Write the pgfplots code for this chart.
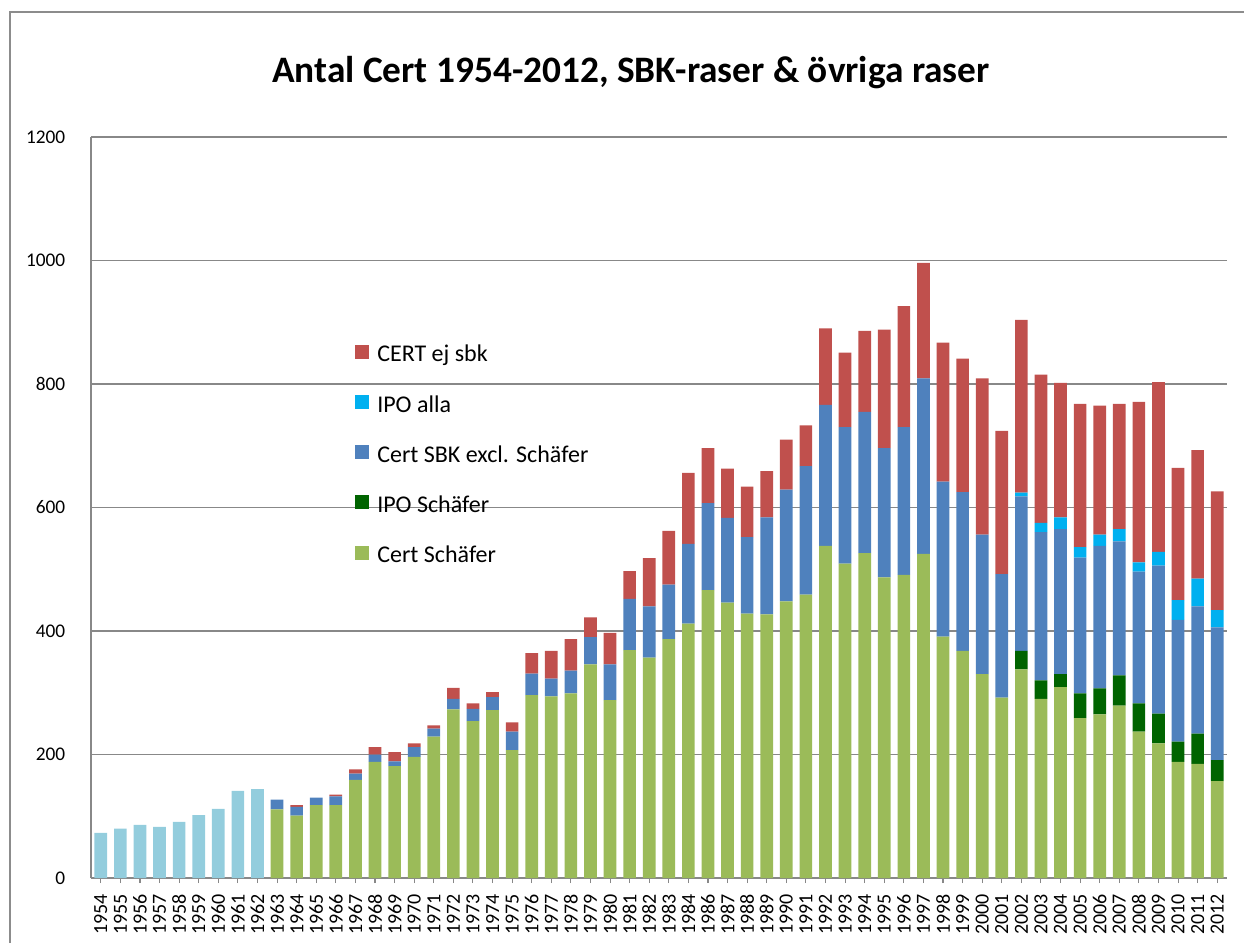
\documentclass[border=0pt]{standalone}
\usepackage{pgfplots}
\usepackage{pgfplotstable}
\usepackage{fontspec}
\setmainfont{Carlito}
\pgfplotsset{compat=1.18}

\definecolor{preblue}{HTML}{93CDDD}
\definecolor{certsch}{HTML}{9BBB59}
\definecolor{iposch}{HTML}{006400}
\definecolor{sbkblue}{HTML}{4F81BD}
\definecolor{ipoalla}{HTML}{00B0F0}
\definecolor{ejsbk}{HTML}{C0504D}
\definecolor{gridgray}{HTML}{888888}
\definecolor{framegray}{HTML}{8C8C8C}

% pre = 1954-1962 (single colour), cs = Cert Schäfer, ips = IPO Schäfer,
% sbk = Cert SBK excl. Schäfer, ipa = IPO alla, ej = CERT ej sbk
\pgfplotstableread{
x  year pre cs  ips sbk ipa ej
0  1954 73  0   0   0   0   0
1  1955 80  0   0   0   0   0
2  1956 86  0   0   0   0   0
3  1957 83  0   0   0   0   0
4  1958 91  0   0   0   0   0
5  1959 102 0   0   0   0   0
6  1960 112 0   0   0   0   0
7  1961 141 0   0   0   0   0
8  1962 144 0   0   0   0   0
9  1963 0   111 0   16  0   0
10 1964 0   101 0   14  0   3
11 1965 0   118 0   12  0   0
12 1966 0   118 0   14  0   3
13 1967 0   159 0   10  0   7
14 1968 0   188 0   12  0   12
15 1969 0   181 0   8   0   15
16 1970 0   196 0   16  0   6
17 1971 0   229 0   13  0   5
18 1972 0   273 0   17  0   18
19 1973 0   254 0   20  0   9
20 1974 0   272 0   21  0   8
21 1975 0   207 0   30  0   15
22 1976 0   296 0   35  0   33
23 1977 0   294 0   29  0   45
24 1978 0   299 0   37  0   51
25 1979 0   346 0   44  0   32
26 1980 0   288 0   58  0   51
27 1981 0   369 0   83  0   45
28 1982 0   357 0   83  0   78
29 1983 0   387 0   88  0   87
30 1984 0   412 0   129 0   115
31 1986 0   466 0   141 0   89
32 1987 0   446 0   137 0   80
33 1988 0   428 0   124 0   82
34 1989 0   427 0   157 0   75
35 1990 0   448 0   181 0   81
36 1991 0   459 0   208 0   66
37 1992 0   538 0   228 0   124
38 1993 0   509 0   221 0   121
39 1994 0   526 0   229 0   131
40 1995 0   487 0   209 0   192
41 1996 0   491 0   239 0   196
42 1997 0   525 0   284 0   187
43 1998 0   391 0   251 0   225
44 1999 0   368 0   257 0   216
45 2000 0   330 0   226 0   253
46 2001 0   292 0   200 0   232
47 2002 0   338 30  250 6   280
48 2003 0   290 30  240 15  240
49 2004 0   309 21  235 19  218
50 2005 0   259 40  220 17  232
51 2006 0   265 42  231 18  209
52 2007 0   279 49  217 20  203
53 2008 0   237 46  213 15  260
54 2009 0   218 48  240 22  275
55 2010 0   188 33  197 32  214
56 2011 0   185 49  206 45  208
57 2012 0   157 34  215 28  192
}\certdata

\begin{document}
\begin{tikzpicture}
\path[use as bounding box] (-68.25pt,-48.75pt) rectangle (864.75pt,658.5pt);
\draw[framegray, line width=0.8pt] (-60.75pt,-48.75pt) -- (-60.75pt,649.5pt) -- (864.75pt,649.5pt);
\begin{axis}[
  scale only axis, width=852pt, height=555.75pt,
  at={(0pt,0pt)}, anchor=south west,
  ybar stacked, bar width=9.5pt,
  xmin=-0.5, xmax=57.5, ymin=0, ymax=1200,
  ytick={0,200,...,1200},
  xtick=data, xticklabels from table={\certdata}{year},
  axis x line*=bottom, axis y line*=left,
  axis line style={draw=gridgray, line width=1.1pt, -},
  ymajorgrids, grid style={draw=gridgray, line width=1.1pt},
  tick align=outside, major tick length=3.75pt,
  xtick style={draw=gridgray, line width=0.8pt},
  ytick style={draw=none},
  /pgf/number format/assume math mode=true,
  /pgf/number format/1000 sep={},
  yticklabel style={font=\fontsize{14.5}{17}\selectfont, xshift=-12pt},
  xticklabel style={font=\fontsize{15}{17}\selectfont, rotate=90, anchor=east, xshift=-5pt},
  legend style={at={(0.2324,0.723)}, anchor=north west, draw=none, fill=none,
    inner sep=0pt, font=\fontsize{18}{21}\selectfont, row sep=19.7pt,
    /tikz/every odd column/.append style={column sep=4pt}},
  legend cell align=left, reverse legend,
  legend image code/.code={\fill[#1] (0pt,-3pt) rectangle (10.5pt,7.5pt);},
  every axis plot/.append style={draw=none},
]
\addplot[fill=preblue, forget plot] table[x=x, y=pre] {\certdata};
\addplot[fill=certsch] table[x=x, y=cs] {\certdata};
\addplot[fill=iposch] table[x=x, y=ips] {\certdata};
\addplot[fill=sbkblue] table[x=x, y=sbk] {\certdata};
\addplot[fill=ipoalla] table[x=x, y=ipa] {\certdata};
\addplot[fill=ejsbk] table[x=x, y=ej] {\certdata};
\legend{Cert Schäfer, IPO Schäfer, Cert SBK excl. Schäfer, IPO alla, CERT ej sbk}
\end{axis}
\node[font=\bfseries\fontsize{28}{34}\selectfont] at (405pt,604pt)
  {Antal Cert 1954-2012, SBK-raser \& övriga raser};
\end{tikzpicture}
\end{document}
